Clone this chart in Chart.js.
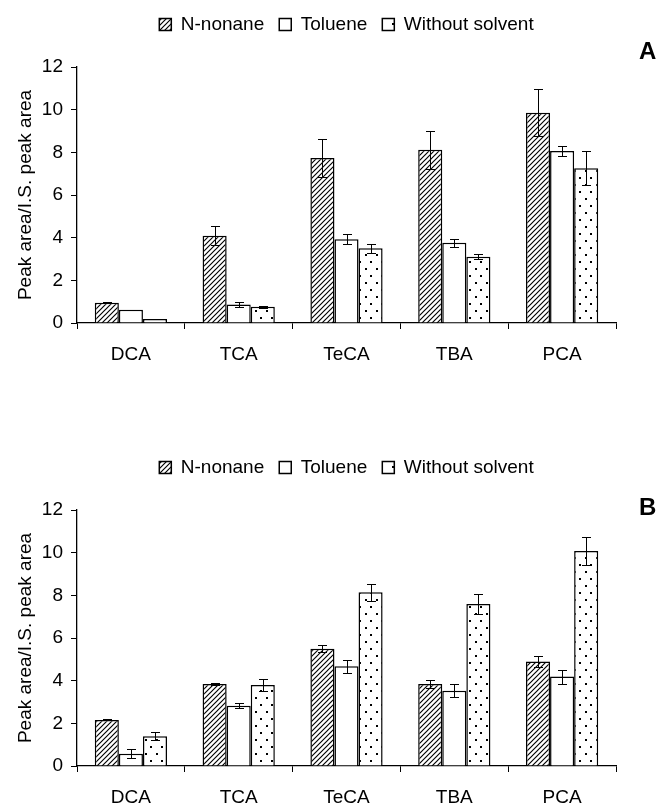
<!DOCTYPE html>
<html>
<head>
<meta charset="utf-8">
<script src="https://cdn.jsdelivr.net/npm/chart.js@4/dist/chart.umd.min.js"></script>
<style>
  html, body { margin: 0; padding: 0; background: #fff; }
  #page { position: relative; width: 660px; height: 805px; overflow: hidden; }
  canvas { position: absolute; left: 0; }
  #chartA { top: 0; }
  #chartB { top: 443px; }
  .panel-tag { position: absolute; left: 639px; font: bold 24px "Liberation Sans", Arial, sans-serif; color: #000; line-height: 24px; }
</style>
</head>
<body>
<div id="page">
  <canvas id="chartA" width="660" height="443"></canvas>
  <canvas id="chartB" width="660" height="443"></canvas>
  <div class="panel-tag" style="top:39px">A</div>
  <div class="panel-tag" style="top:495px">B</div>
</div>
<script>
// 类别与图例
const categories = ['DCA', 'TCA', 'TeCA', 'TBA', 'PCA'];
const seriesNames = ['N-nonane', 'Toluene', 'Without solvent'];
const yTicks = [0, 2, 4, 6, 8, 10, 12];

// 图 A
const nonaneA = [0.95, 4.09, 7.73, 8.12, 9.86];
const nonaneErrA = [0.03, 0.45, 0.9, 0.9, 1.1];
const tolueneA = [0.62, 0.87, 3.92, 3.76, 8.06];
const tolueneErrA = [0.01, 0.1, 0.24, 0.2, 0.22];
const withoutA = [0.19, 0.76, 3.5, 3.11, 7.25];
const withoutErrA = [0.01, 0.05, 0.2, 0.12, 0.8];

// 图 B
const nonaneB = [2.16, 3.84, 5.5, 3.84, 4.9];
const nonaneErrB = [0.02, 0.04, 0.15, 0.17, 0.25];
const tolueneB = [0.58, 2.83, 4.68, 3.53, 4.19];
const tolueneErrB = [0.2, 0.13, 0.3, 0.3, 0.33];
const withoutB = [1.4, 3.8, 8.14, 7.59, 10.08];
const withoutErrB = [0.2, 0.28, 0.4, 0.47, 0.66];

const FONT = '"Liberation Sans", Arial, sans-serif';

function hatchPattern() {
  const s = 5;
  const c = document.createElement('canvas');
  c.width = s; c.height = s;
  const g = c.getContext('2d');
  g.fillStyle = '#fff';
  g.fillRect(0, 0, s, s);
  g.strokeStyle = '#000';
  g.lineWidth = 1.15;
  g.beginPath();
  g.moveTo(0, s); g.lineTo(s, 0);
  g.moveTo(-1, 1); g.lineTo(1, -1);
  g.moveTo(s - 1, s + 1); g.lineTo(s + 1, s - 1);
  g.stroke();
  return g.createPattern(c, 'repeat');
}

function dotPattern() {
  const c = document.createElement('canvas');
  c.width = 11; c.height = 14;
  const g = c.getContext('2d');
  g.fillStyle = '#fff';
  g.fillRect(0, 0, 11, 14);
  g.fillStyle = '#000';
  g.fillRect(2, 2, 2, 2);
  g.fillRect(7, 9, 2, 2);
  return g.createPattern(c, 'repeat');
}

// 误差线
const errorBars = {
  id: 'errorBars',
  afterDatasetsDraw(chart) {
    const ctx = chart.ctx;
    const y = chart.scales.y;
    ctx.save();
    ctx.strokeStyle = '#000';
    ctx.lineWidth = 1;
    chart.data.datasets.forEach((ds, i) => {
      const meta = chart.getDatasetMeta(i);
      meta.data.forEach((bar, j) => {
        const v = ds.data[j], e = ds.err[j];
        if (!e) return;
        const x = Math.round(bar.x) + 0.5;
        const top = Math.round(y.getPixelForValue(v + e)) + 0.5;
        const bot = Math.round(y.getPixelForValue(v - e)) + 0.5;
        ctx.beginPath();
        ctx.moveTo(x, top); ctx.lineTo(x, bot);
        ctx.moveTo(x - 4.5, top); ctx.lineTo(x + 4.5, top);
        ctx.moveTo(x - 4.5, bot); ctx.lineTo(x + 4.5, bot);
        ctx.stroke();
      });
    });
    ctx.restore();
  }
};

// 图例下方留白
const legendGap = {
  id: 'legendGap',
  beforeInit(chart) {
    const fit = chart.legend.fit;
    chart.legend.fit = function () {
      fit.bind(chart.legend)();
      this.height += 23;
    };
  }
};

function makeChart(id, vals, errs) {
  const fills = [hatchPattern(), '#ffffff', dotPattern()];
  return new Chart(document.getElementById(id), {
    type: 'bar',
    data: {
      labels: categories,
      datasets: seriesNames.map((name, i) => ({
        label: name,
        data: vals[i],
        err: errs[i],
        backgroundColor: fills[i],
        borderColor: '#000',
        borderWidth: 1.5,
        categoryPercentage: 0.67,
        barPercentage: 1.0
      }))
    },
    options: {
      responsive: false,
      animation: false,
      layout: { padding: { top: 0, left: 0, right: 44, bottom: 60 } },
      plugins: {
        legend: {
          position: 'top',
          fullSize: false,
          labels: {
            boxWidth: 12, boxHeight: 12, padding: 15, color: '#000',
            font: { family: FONT, size: 19 }
          }
        },
        tooltip: { enabled: false }
      },
      scales: {
        x: {
          afterFit: axis => { axis.height = 60; },
          grid: { offset: true, drawOnChartArea: false, drawTicks: true, tickLength: 6, color: '#000' },
          border: { display: true, color: '#000', width: 1.3 },
          ticks: { color: '#000', padding: 14, font: { family: FONT, size: 19 } }
        },
        y: {
          min: 0, max: 12,
          afterFit: axis => { axis.width = 77; },
          afterBuildTicks: axis => { axis.ticks = yTicks.map(v => ({ value: v })); },
          grid: { drawOnChartArea: false, drawTicks: true, tickLength: 6, color: '#000' },
          border: { display: true, color: '#000', width: 1.3 },
          ticks: { color: '#000', padding: 8, font: { family: FONT, size: 19 } },
          title: {
            display: true, text: 'Peak area/I.S. peak area', color: '#000',
            padding: { top: 14, bottom: 0 }, font: { family: FONT, size: 19 }
          }
        }
      }
    },
    plugins: [errorBars, legendGap]
  });
}

makeChart('chartA', [nonaneA, tolueneA, withoutA], [nonaneErrA, tolueneErrA, withoutErrA]);
makeChart('chartB', [nonaneB, tolueneB, withoutB], [nonaneErrB, tolueneErrB, withoutErrB]);
</script>
</body>
</html>
